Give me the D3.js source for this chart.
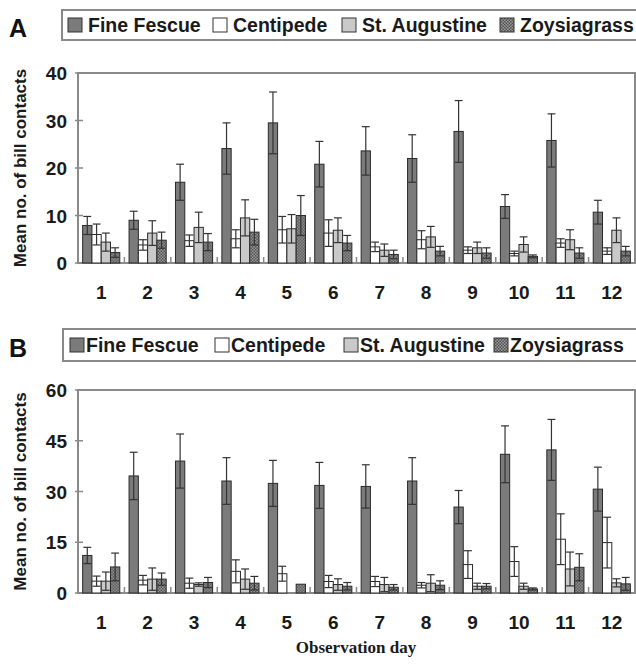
<!DOCTYPE html>
<html>
<head>
<meta charset="utf-8">
<script src="https://cdn.jsdelivr.net/npm/d3@7"></script>
<style>
  body { margin: 0; background: #fff; }
  svg { display: block; }
</style>
</head>
<body>
<svg id="chart" width="636" height="668"></svg>
<script>
// --- Data ---
const days = ["1", "2", "3", "4", "5", "6", "7", "8", "9", "10", "11", "12"];
const grasses = ["Fine Fescue", "Centipede", "St. Augustine", "Zoysiagrass"];

// Panel A: means and SE
const aFescue      = [7.9, 9.0, 17.0, 24.1, 29.5, 20.8, 23.6, 22.0, 27.7, 11.9, 25.8, 10.7];
const aFescueSE    = [1.9, 1.9, 3.8, 5.4, 6.5, 4.8, 5.1, 5.0, 6.5, 2.5, 5.6, 2.5];
const aCentipede   = [6.0, 3.8, 4.7, 5.1, 7.0, 6.3, 3.4, 4.9, 2.7, 2.0, 4.2, 2.5];
const aCentipedeSE = [2.2, 1.1, 1.2, 1.9, 2.8, 2.8, 1.0, 1.9, 0.7, 0.5, 0.9, 0.7];
const aAugustine   = [4.4, 6.3, 7.5, 9.5, 7.2, 6.9, 2.7, 5.5, 3.2, 3.9, 4.9, 6.9];
const aAugustineSE = [1.9, 2.6, 3.2, 3.8, 3.0, 2.6, 1.3, 2.2, 1.2, 1.6, 2.1, 2.6];
const aZoysia      = [2.2, 4.8, 4.4, 6.5, 10.0, 4.2, 1.8, 2.5, 2.1, 1.4, 2.1, 2.5];
const aZoysiaSE    = [1.0, 1.7, 1.8, 2.7, 4.2, 1.6, 0.9, 1.0, 1.1, 0.3, 1.1, 1.0];

// Panel B: means and SE
const bFescue      = [11.1, 34.6, 39.0, 33.1, 32.4, 31.8, 31.5, 33.1, 25.4, 41.0, 42.3, 30.7];
const bFescueSE    = [2.4, 7.0, 8.0, 6.9, 6.8, 6.8, 6.4, 6.9, 4.9, 8.4, 9.0, 6.5];
const bCentipede   = [3.5, 3.8, 2.9, 6.4, 5.7, 3.4, 3.4, 2.3, 8.4, 9.3, 15.9, 14.9];
const bCentipedeSE = [1.5, 1.4, 1.5, 3.4, 2.2, 1.8, 1.5, 0.8, 4.1, 4.4, 7.5, 7.5];
const bAugustine   = [3.5, 4.1, 2.5, 4.1, 0, 2.5, 2.5, 2.9, 2.0, 2.0, 7.1, 3.0];
const bAugustineSE = [2.7, 3.3, 0.5, 3.0, 0, 1.7, 2.1, 2.5, 0.9, 0.9, 5.0, 1.2];
const bZoysia      = [7.7, 4.1, 3.1, 2.9, 2.6, 2.0, 1.7, 2.3, 2.0, 1.2, 7.6, 2.7];
const bZoysiaSE    = [4.1, 1.8, 1.5, 2.0, 0, 1.1, 0.8, 1.3, 0.8, 0.3, 4.0, 1.9];

const aTicks = [0, 10, 20, 30, 40];
const bTicks = [0, 15, 30, 45, 60];

const fills = ["#7b7b7b", "#ffffff", "#c9c9c9", "url(#zoy)"];

const svg = d3.select("#chart");

// checkered pattern for Zoysiagrass
const defs = svg.append("defs");
const pat = defs.append("pattern")
    .attr("id", "zoy")
    .attr("patternUnits", "userSpaceOnUse")
    .attr("width", 3).attr("height", 3);
pat.append("rect").attr("width", 3).attr("height", 3).attr("fill", "#9a9a9a");
pat.append("rect").attr("width", 1.5).attr("height", 1.5).attr("fill", "#505050");
pat.append("rect").attr("x", 1.5).attr("y", 1.5).attr("width", 1.5).attr("height", 1.5).attr("fill", "#505050");

const sans = "Liberation Sans, Arial, sans-serif";

function buildRows(means, ses) {
    return days.map((d, i) => ({
        day: d,
        vals: grasses.map((g, k) => ({ grass: g, k: k, v: means[k][i], se: ses[k][i] }))
    }));
}

function drawPanel(opt) {
    const g = svg.append("g");
    const x = d3.scaleBand().domain(days).range([opt.left, opt.right])
        .paddingInner(0.2).paddingOuter(0.1);
    const xs = d3.scaleBand().domain(grasses).range([0, x.bandwidth()]);
    const y = d3.scaleLinear().domain([0, opt.max]).range([opt.bottom, opt.top]);

    // panel letter
    g.append("text").attr("x", 9).attr("y", opt.letterY)
        .style("font", `bold 25px ${sans}`).attr("fill", "#111").text(opt.letter);

    // legend box
    g.append("rect").attr("x", opt.legX).attr("y", opt.legY)
        .attr("width", 640 - opt.legX).attr("height", opt.legH)
        .attr("fill", "#fff").attr("stroke", "#8a8a8a").attr("stroke-width", 2);
    grasses.forEach((name, k) => {
        const lx = opt.legItems[k];
        const cy = opt.legY + opt.legH / 2;
        g.append("rect").attr("x", lx).attr("y", cy - 7).attr("width", 14).attr("height", 14)
            .attr("fill", fills[k]).attr("stroke", "#333").attr("stroke-width", 1);
        g.append("text").attr("x", lx + opt.legGap).attr("y", cy + 7)
            .style("font", `bold 19.5px ${sans}`).attr("fill", "#1a1a1a").text(name);
    });

    // frame
    g.append("rect").attr("x", opt.left).attr("y", opt.top)
        .attr("width", opt.right - opt.left).attr("height", opt.bottom - opt.top)
        .attr("fill", "none").attr("stroke", "#8a8a8a").attr("stroke-width", 2);

    // y ticks + labels
    opt.ticks.forEach(t => {
        g.append("line").attr("x1", opt.left - 3).attr("x2", opt.left + 5)
            .attr("y1", y(t)).attr("y2", y(t)).attr("stroke", "#8a8a8a").attr("stroke-width", 1.5);
        g.append("text").attr("x", opt.left - 11).attr("y", y(t) + 7)
            .attr("text-anchor", "end").style("font", `bold 19px ${sans}`).attr("fill", "#1a1a1a").text(t);
    });

    // x ticks at band boundaries
    d3.range(1, days.length).forEach(i => {
        const bx = opt.left + i * x.step();
        g.append("line").attr("x1", bx).attr("x2", bx)
            .attr("y1", opt.bottom).attr("y2", opt.bottom - 6)
            .attr("stroke", "#8a8a8a").attr("stroke-width", 1.5);
    });

    // x labels
    g.selectAll(".xl").data(days).enter().append("text")
        .attr("x", d => x(d) + x.bandwidth() / 2).attr("y", opt.bottom + 36)
        .attr("text-anchor", "middle").style("font", `bold 19px ${sans}`).attr("fill", "#1a1a1a")
        .text(d => d);

    // y title
    g.append("text")
        .attr("transform", `translate(26,${(opt.top + opt.bottom) / 2}) rotate(-90)`)
        .attr("text-anchor", "middle").style("font", `bold 17px ${sans}`).attr("fill", "#1a1a1a")
        .text("Mean no. of bill contacts");

    // bars
    const groups = g.selectAll(".grp").data(opt.rows).enter().append("g")
        .attr("transform", d => `translate(${x(d.day)},0)`);
    groups.selectAll("rect").data(d => d.vals.filter(v => v.v > 0)).enter().append("rect")
        .attr("x", d => xs(d.grass)).attr("width", xs.bandwidth())
        .attr("y", d => y(d.v)).attr("height", d => y(0) - y(d.v))
        .attr("fill", d => fills[d.k]).attr("stroke", "#2a2a2a").attr("stroke-width", 1);

    // error bars
    const cap = xs.bandwidth() * 0.85;
    const eb = groups.selectAll(".eb").data(d => d.vals.filter(v => v.se > 0)).enter().append("g")
        .attr("stroke", "#333").attr("stroke-width", 1.2);
    eb.append("line")
        .attr("x1", d => xs(d.grass) + xs.bandwidth() / 2).attr("x2", d => xs(d.grass) + xs.bandwidth() / 2)
        .attr("y1", d => y(Math.max(0, d.v - d.se))).attr("y2", d => y(d.v + d.se));
    eb.append("line")
        .attr("x1", d => xs(d.grass) + xs.bandwidth() / 2 - cap / 2).attr("x2", d => xs(d.grass) + xs.bandwidth() / 2 + cap / 2)
        .attr("y1", d => y(d.v + d.se)).attr("y2", d => y(d.v + d.se));
    eb.append("line")
        .attr("x1", d => xs(d.grass) + xs.bandwidth() / 2 - cap / 2).attr("x2", d => xs(d.grass) + xs.bandwidth() / 2 + cap / 2)
        .attr("y1", d => y(Math.max(0, d.v - d.se))).attr("y2", d => y(Math.max(0, d.v - d.se)));
}

drawPanel({
    letter: "A", letterY: 37,
    legX: 62, legY: 10, legH: 30, legGap: 20,
    legItems: [68, 213, 342, 500],
    left: 78, right: 635, top: 73, bottom: 263, max: 40, ticks: aTicks,
    rows: buildRows([aFescue, aCentipede, aAugustine, aZoysia],
                    [aFescueSE, aCentipedeSE, aAugustineSE, aZoysiaSE])
});

drawPanel({
    letter: "B", letterY: 357,
    legX: 63, legY: 329, legH: 32, legGap: 16,
    legItems: [70, 215, 344, 494],
    left: 78, right: 635, top: 390, bottom: 593, max: 60, ticks: bTicks,
    rows: buildRows([bFescue, bCentipede, bAugustine, bZoysia],
                    [bFescueSE, bCentipedeSE, bAugustineSE, bZoysiaSE])
});

svg.append("text").attr("x", 356).attr("y", 653)
    .attr("text-anchor", "middle")
    .style("font", "bold 17px 'Liberation Serif', 'Times New Roman', serif")
    .attr("fill", "#1a1a1a")
    .text("Observation day");
</script>
</body>
</html>
